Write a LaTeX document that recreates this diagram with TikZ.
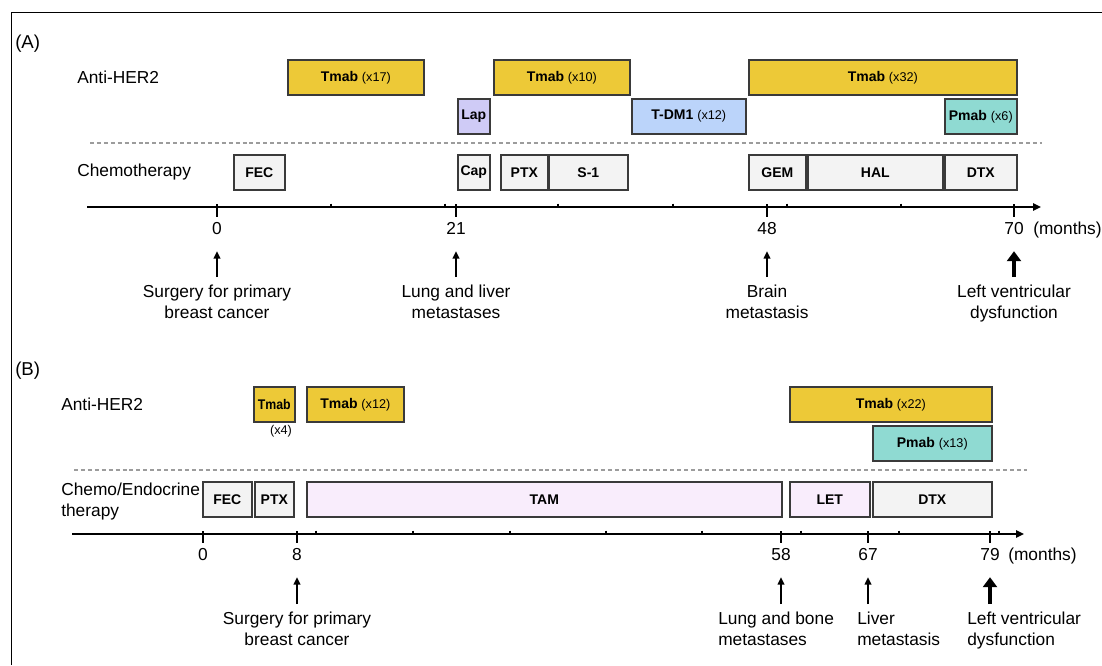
\documentclass[tikz,border=0pt]{standalone}
\usepackage{fontspec}
\usepackage{graphicx}
\setmainfont{Liberation Sans}
\usetikzlibrary{arrows.meta}

\definecolor{tmabyellow}{HTML}{EDC937}
\definecolor{lapviolet}{HTML}{CFCBF6}
\definecolor{tdmblue}{HTML}{BBD4FA}
\definecolor{pmabteal}{HTML}{8FDAD2}
\definecolor{chemogray}{HTML}{F3F3F3}
\definecolor{endopink}{HTML}{F9EDFC}
\definecolor{edgegray}{HTML}{3A3A3A}
\definecolor{dashgray}{HTML}{9C9C9C}

\newcommand{\cnt}[1]{{\mdseries\fontsize{9.5}{11}\selectfont #1}}

\tikzset{
  drug/.style={draw=edgegray, line width=1.2pt, inner sep=0pt, anchor=north west,
    minimum height=26.4pt, font=\bfseries\fontsize{10.5}{12}\selectfont},
  tmab/.style={fill=tmabyellow},
  lap/.style={fill=lapviolet},
  tdm/.style={fill=tdmblue},
  pmab/.style={fill=pmabteal},
  chemo/.style={fill=chemogray},
  endo/.style={fill=endopink},
  rowlab/.style={anchor=west, inner sep=0pt, align=left, font=\fontsize{13}{15.75}\selectfont},
  num/.style={anchor=north, inner sep=0pt, text height=9pt, text depth=0pt, font=\fontsize{13}{15.75}\selectfont},
  evlab/.style={anchor=north, inner sep=0pt, font=\fontsize{13}{15.75}\selectfont},
  axisline/.style={line width=1.4pt, -{Triangle[length=6pt,width=5.5pt]}},
  tickline/.style={line width=1.3pt},
  sepline/.style={draw=dashgray, line width=1.1pt, dash pattern=on 3pt off 2.2pt},
  evarrow/.style={line width=1pt, -{Triangle[length=5.5pt,width=5pt]}, shorten <=6pt, shorten >=12.5pt},
  bigarrow/.style={line width=3pt, -{Triangle[length=7.5pt,width=10.5pt]}, shorten <=6pt, shorten >=12.5pt}
}

\begin{document}
\begin{tikzpicture}[x=0.75pt,y=-0.75pt]
\useasboundingbox (0,0) rectangle (1102,665);

% frame
\draw[line width=0.7pt] (11,665) -- (11,12) -- (1102,12);

%% (A)
\node[anchor=west, inner sep=0pt, font=\fontsize{14}{16}\selectfont] (tagA) at (15,44) {(A)};
\node[rowlab] (antiA) at (77,77) {Anti-HER2};
\node[rowlab] (chemoA) at (77,172) {Chemotherapy};

\foreach \nm/\st/\xa/\xb/\ya/\txt in {
  tmA1/tmab/287/423/59/Tmab \cnt{(x17)},
  tmA2/tmab/493/629/59/Tmab \cnt{(x10)},
  tmA3/tmab/748/1016/59/Tmab \cnt{(x32)},
  lapA/lap/457/489/98/Lap,
  tdmA/tdm/631/745/98/T-DM1 \cnt{(x12)},
  pmA/pmab/944/1016/98/Pmab \cnt{(x6)},
  fecA/chemo/233/284/154/FEC,
  capA/chemo/457/489/154/Cap,
  ptxA/chemo/500/547/154/PTX,
  soneA/chemo/548/627/154/S-1,
  gemA/chemo/748/805/154/GEM,
  halA/chemo/807/942/154/HAL,
  dtxA/chemo/944/1016/154/DTX
} \node[drug,\st,minimum width={(\xb-\xa)*0.75pt}] (\nm) at (\xa,\ya) {\txt};

\coordinate (sepA0) at (90,143);
\coordinate (sepA1) at (1042,143);
\draw[sepline] (sepA0) -- (sepA1);

% time axis
\coordinate (axA0) at (87,207);
\coordinate (axA1) at (1041,207);
\draw[axisline] (axA0) -- (axA1);
\foreach \xp in {331,445,558,673,787,901}
  \draw[tickline] (\xp,203.5) -- (\xp,207);
\foreach \xp/\m in {217/0,456/21,767/48,1014/70} {
  \draw[tickline] (\xp,204) -- (\xp,217);
  \node[num] (tA\m) at (\xp,222) {\m};
}
\node[num,anchor=north west] (monA) at (1033,222) {(months)};

\node[evlab,align=center] (evA0) at (217,285) {Surgery for primary\\breast cancer};
\node[evlab,align=center] (evA21) at (456,285) {Lung and liver\\metastases};
\node[evlab,align=center] (evA48) at (767,285) {Brain\\metastasis};
\node[evlab,align=center] (evA70) at (1014,285) {Left ventricular\\dysfunction};
\foreach \m in {0,21,48}
  \draw[evarrow] (evA\m.north -| tA\m.south) -- (tA\m.south);
\draw[bigarrow] (evA70.north -| tA70.south) -- (tA70.south);

%% (B)
\node[anchor=west, inner sep=0pt, font=\fontsize{14}{16}\selectfont] (tagB) at (15,371) {(B)};
\node[rowlab] (antiB) at (61,404) {Anti-HER2};
\node[rowlab] (chemoB) at (61,502) {Chemo/Endocrine\\therapy};

\foreach \nm/\st/\xa/\xb/\ya/\txt in {
  tmB1/tmab/253/294/386/\scalebox{0.88}[1]{Tmab},
  tmB2/tmab/306/403/386/Tmab \cnt{(x12)},
  tmB3/tmab/789/991/386/Tmab \cnt{(x22)},
  pmB/pmab/872/991/425/Pmab \cnt{(x13)},
  fecB/chemo/202/251/481/FEC,
  ptxB/chemo/254/293/481/PTX,
  tamB/endo/306/781/481/TAM,
  letB/endo/789/869/481/LET,
  dtxB/chemo/872/991/481/DTX
} \node[drug,\st,minimum width={(\xb-\xa)*0.75pt}] (\nm) at (\xa,\ya) {\txt};
\node[font=\fontsize{9.5}{11}\selectfont, inner sep=0pt] (xfourB) at (281,431) {(x4)};

\coordinate (sepB0) at (74,470);
\coordinate (sepB1) at (1027,470);
\draw[sepline] (sepB0) -- (sepB1);

% time axis
\coordinate (axB0) at (72,534);
\coordinate (axB1) at (1024,534);
\draw[axisline] (axB0) -- (axB1);
\foreach \xp in {316,413,510,606,702,801,899,999}
  \draw[tickline] (\xp,530.5) -- (\xp,534);
\foreach \xp/\m in {203/0,297/8,781/58,868/67,990/79} {
  \draw[tickline] (\xp,531) -- (\xp,543);
  \node[num] (tB\m) at (\xp,548) {\m};
}
\node[num,anchor=north west] (monB) at (1008,548) {(months)};

\node[evlab,align=center] (evB8) at (297,612) {Surgery for primary\\breast cancer};
\node[evlab,anchor=north west,align=left] (evB58) at (718,612) {Lung and bone\\metastases};
\node[evlab,anchor=north west,align=left] (evB67) at (857,612) {Liver\\metastasis};
\node[evlab,anchor=north west,align=left] (evB79) at (967,612) {Left ventricular\\dysfunction};
\foreach \m in {8,58,67}
  \draw[evarrow] (evB\m.north -| tB\m.south) -- (tB\m.south);
\draw[bigarrow] (evB79.north -| tB79.south) -- (tB79.south);
\end{tikzpicture}
\end{document}
